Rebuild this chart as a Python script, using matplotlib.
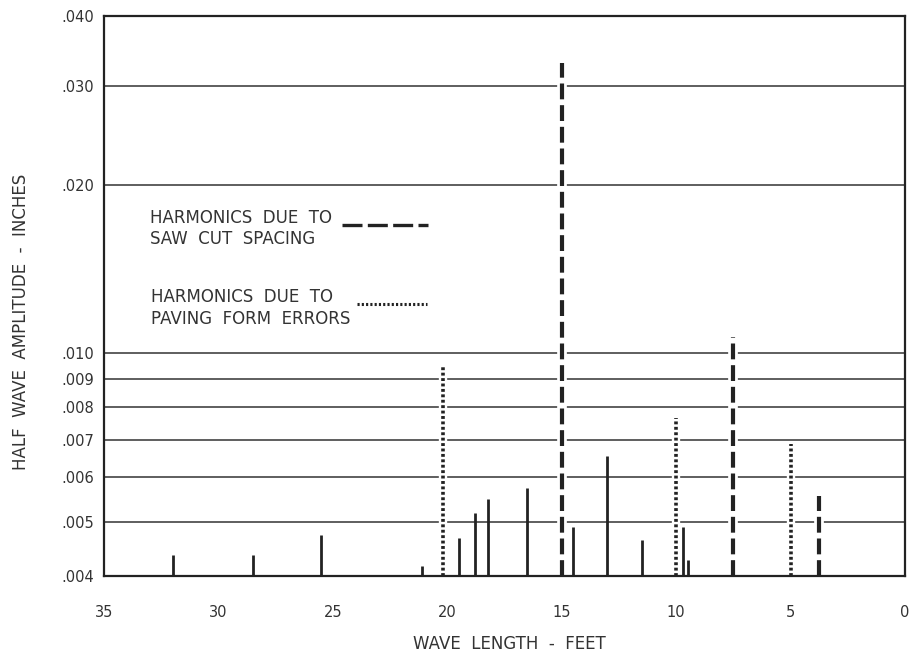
import matplotlib
matplotlib.use("Agg")
import matplotlib.pyplot as plt
from matplotlib.lines import Line2D

# ---- data ----
solid_x = [32, 28.5, 25.5, 21.1, 19.5, 18.8, 18.2, 16.5, 14.5, 13, 11.5, 9.7, 9.5]
solid_y = [0.00436, 0.00436, 0.00474, 0.00417, 0.00467, 0.00518, 0.00548, 0.00574,
           0.0049, 0.00655, 0.00464, 0.0049, 0.00427]
saw_x = [15, 7.5, 3.75]
saw_y = [0.033, 0.0107, 0.00556]
form_x = [20.2, 10, 5]
form_y = [0.00944, 0.00765, 0.00688]
y_ticks = [0.004, 0.005, 0.006, 0.007, 0.008, 0.009, 0.010, 0.020, 0.030, 0.040]
y_labels = [".004", ".005", ".006", ".007", ".008", ".009", ".010", ".020", ".030", ".040"]
x_ticks = [35, 30, 25, 20, 15, 10, 5, 0]
x_labels = ["35", "30", "25", "20", "15", "10", "5", "0"]
ybase = 0.004

W, H = 910, 656
fig = plt.figure(figsize=(W / 100, H / 100), dpi=100)
ax = fig.add_axes([104 / W, 1 - 576 / H, (905 - 104) / W, (576 - 16) / H])

ink = "#222222"
txt = "#333333"

ax.set_yscale("log")
ax.set_ylim(0.004, 0.040)
ax.set_xlim(35, 0)
ax.set_yticks(y_ticks)
ax.set_yticklabels(y_labels)
ax.yaxis.set_minor_locator(matplotlib.ticker.NullLocator())
ax.set_xticks(x_ticks)
ax.set_xticklabels(x_labels)
ax.tick_params(length=0, colors=txt)
ax.tick_params(axis="x", pad=21, labelsize=10.5)
ax.tick_params(axis="y", pad=7, labelsize=10.5)

for v in y_ticks:
    ax.axhline(v, color="#333333", lw=1.1, zorder=1)

for s in ax.spines.values():
    s.set_color(ink)
    s.set_linewidth(1.6)

# white gaps behind dashed / dotted lines
ax.vlines(saw_x, ybase, saw_y, colors="white", lw=7, zorder=1.5)
ax.vlines(form_x, ybase, form_y, colors="white", lw=6, zorder=1.5)

ax.vlines(solid_x, ybase, solid_y, colors=ink, lw=2.0, zorder=3)
ax.vlines(saw_x, ybase, saw_y, colors=ink, lw=3.0, linestyles=[(0, (3.8, 1.4))], zorder=3)
ax.vlines(form_x, ybase, form_y, colors=ink, lw=2.6, linestyles=[(0, (0.8, 0.7))], zorder=3)


def fx(px):
    return px / W


def fy(py):
    return 1 - py / H


fs = 12
fig.text(fx(21), fy(322), "HALF  WAVE  AMPLITUDE  -  INCHES", fontsize=fs, color=txt,
         rotation=90, ha="center", va="center")
fig.text(fx(509), fy(644), "WAVE  LENGTH  -  FEET", fontsize=fs, color=txt,
         ha="center", va="center")

fig.text(fx(150), fy(218), "HARMONICS  DUE  TO", fontsize=fs, color=txt, va="center")
fig.text(fx(150), fy(239), "SAW  CUT  SPACING", fontsize=fs, color=txt, va="center")
fig.text(fx(151), fy(297), "HARMONICS  DUE  TO", fontsize=fs, color=txt, va="center")
fig.text(fx(151), fy(319), "PAVING  FORM  ERRORS", fontsize=fs, color=txt, va="center")

fig.add_artist(Line2D([fx(342), fx(428)], [fy(225), fy(225)], color=ink, lw=2.4,
                      linestyle=(0, (6.0, 1.6)), transform=fig.transFigure))
fig.add_artist(Line2D([fx(357), fx(427)], [fy(304), fy(304)], color=ink, lw=2.2,
                      linestyle=(0, (0.7, 0.7)), transform=fig.transFigure))

fig.savefig("out.png", dpi=100, facecolor="white")
